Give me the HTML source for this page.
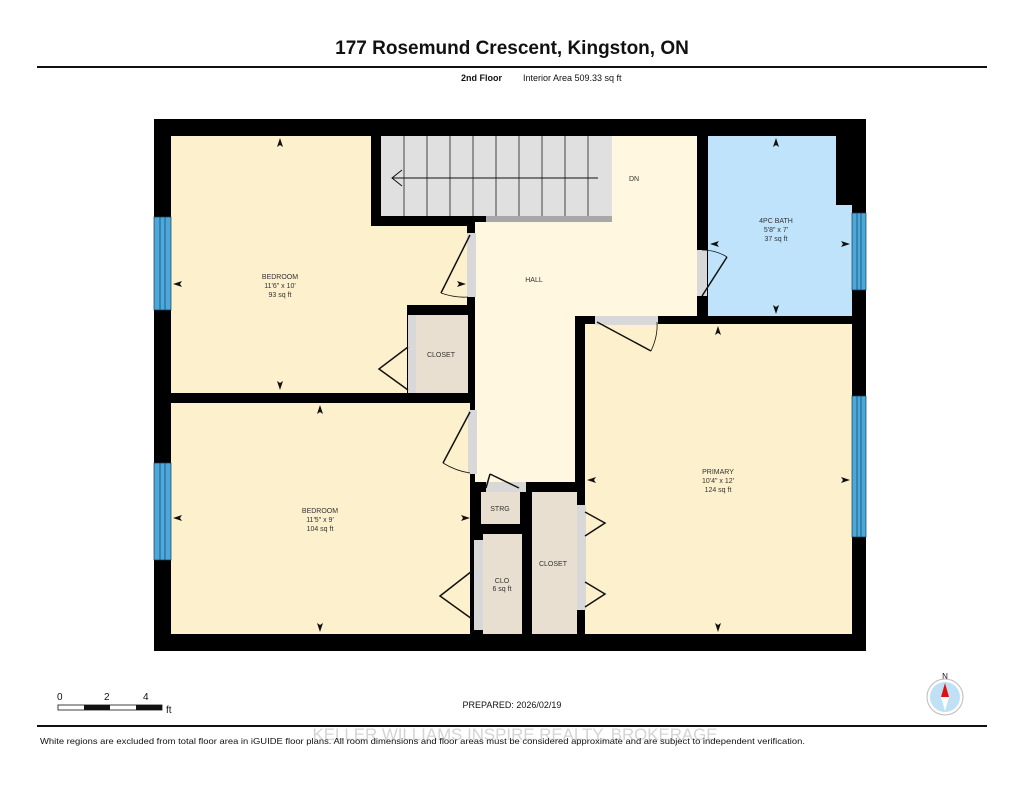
<!DOCTYPE html>
<html><head><meta charset="utf-8"><style>
html,body{margin:0;padding:0;background:#fff;width:1024px;height:791px;overflow:hidden}
svg{display:block}
text{font-family:"Liberation Sans",Arial,sans-serif}
</style></head><body>
<svg width="1024" height="791" viewBox="0 0 1024 791" xmlns="http://www.w3.org/2000/svg">
<text x="512" y="54" text-anchor="middle" font-size="19" font-weight="bold" fill="#111">177 Rosemund Crescent, Kingston, ON</text>
<rect x="37" y="66" width="950" height="2" fill="#111"/>
<text x="461" y="81" font-size="9" font-weight="bold" fill="#111">2nd Floor</text>
<text x="523" y="81" font-size="9" fill="#111">Interior Area 509.33 sq ft</text>

<rect x="154" y="119" width="712" height="532" fill="#000"/>
<rect x="171" y="136" width="200" height="257" fill="#fdf0cc"/>
<rect x="371" y="226" width="96" height="79" fill="#fdf0cc"/>
<rect x="371" y="305" width="36" height="88" fill="#fdf0cc"/>
<rect x="381" y="136" width="231" height="80" fill="#e0e0e0"/>
<g stroke="#444" stroke-width="1">
<line x1="404" y1="136" x2="404" y2="216"/><line x1="427" y1="136" x2="427" y2="216"/><line x1="450" y1="136" x2="450" y2="216"/><line x1="473" y1="136" x2="473" y2="216"/><line x1="496" y1="136" x2="496" y2="216"/><line x1="519" y1="136" x2="519" y2="216"/><line x1="542" y1="136" x2="542" y2="216"/><line x1="565" y1="136" x2="565" y2="216"/><line x1="588" y1="136" x2="588" y2="216"/>
<line x1="392" y1="178" x2="598" y2="178" stroke="#111"/>
<polyline points="402,170 392,178 402,186" fill="none" stroke="#111"/>
</g>
<rect x="612" y="136" width="85" height="180" fill="#fff7e0"/>
<rect x="475" y="222" width="222" height="94" fill="#fff7e0"/>
<rect x="475" y="316" width="100" height="166" fill="#fff7e0"/>
<rect x="486" y="216" width="126" height="6" fill="#a8a8a8"/>
<rect x="708" y="136" width="128" height="180" fill="#bfe3fa"/>
<rect x="836" y="205" width="16" height="111" fill="#bfe3fa"/>
<rect x="585" y="324" width="267" height="310" fill="#fdf0cc"/>
<rect x="171" y="403" width="299" height="231" fill="#fdf0cc"/>
<rect x="416" y="315" width="52" height="78" fill="#e8dfd0"/>
<rect x="408" y="315" width="8" height="78" fill="#d8d8d8"/>
<rect x="481" y="492" width="39" height="32" fill="#e8dfd0"/>
<rect x="483" y="534" width="39" height="100" fill="#e8dfd0"/>
<rect x="474" y="540" width="9" height="90" fill="#d8d8d8"/>
<rect x="532" y="492" width="45" height="142" fill="#e8dfd0"/>
<rect x="577" y="505" width="9" height="105" fill="#d8d8d8"/>
<rect x="467" y="233" width="9" height="64" fill="#d8d8d8"/>
<rect x="468" y="410" width="9" height="64" fill="#d8d8d8"/>
<rect x="697" y="250" width="10" height="46" fill="#d8d8d8"/>
<rect x="595" y="316" width="63" height="9" fill="#d8d8d8"/>
<rect x="486" y="482" width="40" height="10" fill="#d8d8d8"/>
<g fill="none" stroke="#111" stroke-width="1.5">
<line x1="470" y1="235" x2="441" y2="293"/><path d="M441 293 Q455 298 468 297" stroke-width="0.8"/>
<line x1="470" y1="412" x2="443" y2="463"/><path d="M443 463 Q456 471 470 473" stroke-width="0.8"/>
<line x1="702" y1="296" x2="727" y2="257"/><path d="M727 257 Q716 250 702 250" stroke-width="0.8"/>
<line x1="597" y1="322" x2="651" y2="351"/><path d="M651 351 Q658 336 657 322" stroke-width="0.8"/>
<polyline points="408,347 379,369 408,390"/>
<polyline points="472,571 440,596 472,619"/>
<polyline points="585,512 605,523 585,536"/>
<polyline points="585,582 605,594 585,607"/>
<line x1="486" y1="488" x2="490" y2="474"/><line x1="490" y1="474" x2="519" y2="488"/>
</g>
<g fill="#4aa8dc" stroke="#1b3c55" stroke-width="0.7">
<rect x="154" y="217" width="17" height="93"/><line x1="160" y1="217" x2="160" y2="310"/><line x1="165" y1="217" x2="165" y2="310"/>
<rect x="154" y="463" width="17" height="97"/><line x1="160" y1="463" x2="160" y2="560"/><line x1="165" y1="463" x2="165" y2="560"/>
<rect x="852" y="213" width="14" height="77"/><line x1="857" y1="213" x2="857" y2="290"/><line x1="861" y1="213" x2="861" y2="290"/>
<rect x="852" y="396" width="14" height="141"/><line x1="857" y1="396" x2="857" y2="537"/><line x1="861" y1="396" x2="861" y2="537"/>
</g>
<g fill="#111">
<path d="M280 138 l-3 9 3-2 3 2z"/><path d="M280 390 l-3-9 3 2 3-2z"/>
<path d="M173 284 l9-3-2 3 2 3z"/><path d="M466 284 l-9-3 2 3-2 3z"/>
<path d="M320 405 l-3 9 3-2 3 2z"/><path d="M320 632 l-3-9 3 2 3-2z"/>
<path d="M173 518 l9-3-2 3 2 3z"/><path d="M470 518 l-9-3 2 3-2 3z"/>
<path d="M776 138 l-3 9 3-2 3 2z"/><path d="M776 314 l-3-9 3 2 3-2z"/>
<path d="M710 244 l9-3-2 3 2 3z"/><path d="M850 244 l-9-3 2 3-2 3z"/>
<path d="M718 326 l-3 9 3-2 3 2z"/><path d="M718 632 l-3-9 3 2 3-2z"/>
<path d="M587 480 l9-3-2 3 2 3z"/><path d="M850 480 l-9-3 2 3-2 3z"/>
</g>
<g font-size="7" fill="#333" text-anchor="middle">
<text x="280" y="279">BEDROOM</text><text x="280" y="288">11'6" x 10'</text><text x="280" y="297">93 sq ft</text>
<text x="534" y="282">HALL</text><text x="634" y="181">DN</text>
<text x="776" y="223">4PC BATH</text><text x="776" y="232">5'8" x 7'</text><text x="776" y="241">37 sq ft</text>
<text x="441" y="357">CLOSET</text>
<text x="320" y="513">BEDROOM</text><text x="320" y="522">11'5" x 9'</text><text x="320" y="531">104 sq ft</text>
<text x="718" y="474">PRIMARY</text><text x="718" y="483">10'4" x 12'</text><text x="718" y="492">124 sq ft</text>
<text x="500" y="511">STRG</text>
<text x="502" y="583">CLO</text><text x="502" y="591">6 sq ft</text>
<text x="553" y="566">CLOSET</text>
</g>
<g font-size="10" fill="#111">
<text x="57" y="700">0</text><text x="104" y="700">2</text><text x="143" y="700">4</text><text x="166" y="713">ft</text>
</g>
<rect x="58" y="705" width="104" height="5" fill="#fff" stroke="#111" stroke-width="0.8"/>
<rect x="84" y="705" width="26" height="5" fill="#111"/><rect x="136" y="705" width="26" height="5" fill="#111"/>
<text x="512" y="708" text-anchor="middle" font-size="9" fill="#111">PREPARED: 2026/02/19</text>
<text x="945" y="679" text-anchor="middle" font-size="8" fill="#111">N</text>
<circle cx="945" cy="697" r="18" fill="#fff" stroke="#bbb"/>
<circle cx="945" cy="697" r="15" fill="#bfe0f5"/>
<path d="M945 683 l-4 14 h8z" fill="#e01010"/><path d="M945 711 l-4-14 h8z" fill="#fff"/>
<rect x="37" y="725" width="950" height="2" fill="#111"/>
<text x="515" y="740" text-anchor="middle" font-size="17" fill="#d4d4d4" textLength="405" lengthAdjust="spacingAndGlyphs">KELLER WILLIAMS INSPIRE REALTY, BROKERAGE</text>
<text x="40" y="744" font-size="8.5" fill="#111" textLength="765" lengthAdjust="spacingAndGlyphs">White regions are excluded from total floor area in iGUIDE floor plans. All room dimensions and floor areas must be considered approximate and are subject to independent verification.</text>
</svg>
</body></html>
